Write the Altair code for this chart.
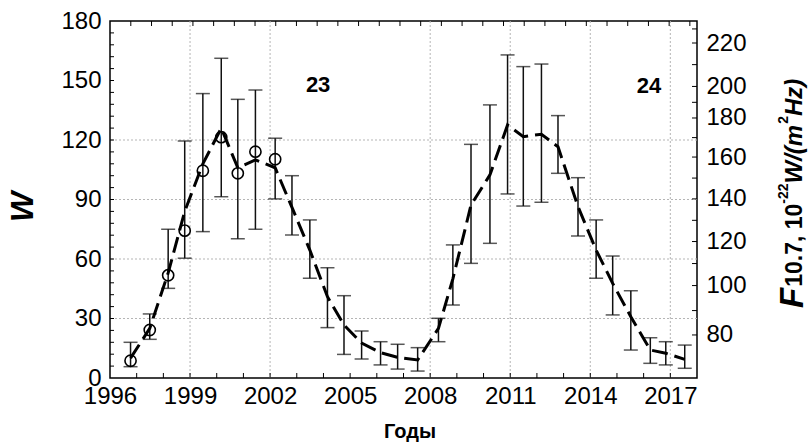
import altair as alt
import pandas as pd

# ---- series ---------------------------------------------------------------
# epochs of the averaged points (years)
years = [1996.77, 1997.49, 1998.18, 1998.80, 1999.48, 2000.17, 2000.79, 2001.45,
         2002.19, 2002.82, 2003.49, 2004.15, 2004.77, 2005.43, 2006.14, 2006.78,
         2007.53, 2008.31, 2008.85, 2009.53, 2010.24, 2010.90, 2011.49, 2012.17,
         2012.79, 2013.54, 2014.22, 2014.84, 2015.52, 2016.25, 2016.83, 2017.54]
# F10.7 expressed on the W scale, with its spread
f107_w = [10, 25, 53, 84, 108, 126, 106, 110, 106, 86, 64.5, 41, 26.7, 17.6, 12.8, 10.4,
          9.1, 25, 50, 87.2, 102.4, 127.6, 121.7, 122.9, 116.6, 86.4, 64.5, 47.7, 30.9,
          14.1, 12.5, 9.4]
f107_lo = [5.7, 19.5, 45.2, 60.4, 73.8, 91.4, 70.2, 75, 90.3, 72.1, 50.3, 25.4, 11.9, 9.6,
           6.6, 4.5, 3.5, 18.3, 36.8, 57.8, 67.9, 92.8, 86.7, 88.6, 103.2, 71.6, 50.3, 31.8,
           14.1, 7.4, 6.6, 4.9]
f107_hi = [18, 32.3, 75, 119.5, 143.4, 161.2, 140.5, 145.2, 120.9, 102, 79.7, 55.6, 41.5,
           23.7, 18.3, 17, 15.3, 30.1, 67.1, 117.8, 137.7, 162.9, 157, 158.3, 132.3, 101,
           79.7, 61.5, 44, 20.3, 18.3, 16.6]
# sunspot number W, cycle 23 rise
w_years = years[:9]
w_values = [8.7, 24.2, 51.8, 74.3, 104.5, 121.4, 103.2, 114.1, 110.3]

# cycle numbers
cycle_names = ["23", "24"]
cycle_x = [2003.8, 2016.2]
cycle_y = [147.5, 147.0]

# ---- axes -----------------------------------------------------------------
x_labels = [1996, 1999, 2002, 2005, 2008, 2011, 2014, 2017]
x_minor = list(range(1997, 2018))
top_minor = [round(1996.78 + 0.776 * i, 3) for i in range(28)]
w_ticks = [0, 30, 60, 90, 120, 150, 180]
w_minor = list(range(6, 180, 6))
f_labels = ["80", "100", "120", "140", "160", "180", "200", "220"]
f_positions = [21.7, 46.6, 68.8, 90.3, 111.4, 131.1, 147.0, 168.9]
f_minor = [34.0, 57.7, 79.5, 100.8, 121.2, 139.0, 158.0, 176.0]
grid_years = [1999, 2002, 2008, 2011, 2014, 2017]
grid_w = [30, 60, 90, 120]

W, H = 587, 357
FONT = "Liberation Sans"
xs = alt.Scale(domain=[1996, 2018], nice=False, zero=False)
ys = alt.Scale(domain=[0, 180], nice=False, zero=False)


def X(field, **kw):
    return alt.X(field, type="quantitative", scale=xs, title=None, **kw)


def Y(field, **kw):
    return alt.Y(field, type="quantitative", scale=ys, title=None, **kw)


series = pd.DataFrame({"year": years, "f": f107_w, "lo": f107_lo, "hi": f107_hi})
wdf = pd.DataFrame({"year": w_years, "w": w_values})
cyc = pd.DataFrame({"x": cycle_x, "y": cycle_y, "t": cycle_names})

grid_x = alt.Chart(pd.DataFrame({"gx": grid_years})).mark_rule(
    color="#b5b5b5", strokeDash=[2, 2], strokeWidth=1
).encode(x=X("gx", axis=None))
grid_y = alt.Chart(pd.DataFrame({"gy": grid_w})).mark_rule(
    color="#b5b5b5", strokeDash=[2, 2], strokeWidth=1
).encode(y=Y("gy", axis=None))

tick_style = dict(color="black", strokeWidth=1)
bottom_ticks = alt.Chart(pd.DataFrame({"t": x_minor})).mark_rule(**tick_style).encode(
    x=X("t", axis=None), y=alt.value(H), y2=alt.value(H - 5))
top_ticks = alt.Chart(pd.DataFrame({"t": top_minor})).mark_rule(**tick_style).encode(
    x=X("t", axis=None), y=alt.value(0), y2=alt.value(5))
left_ticks = alt.Chart(pd.DataFrame({"t": w_minor})).mark_rule(**tick_style).encode(
    y=Y("t", axis=None), x=alt.value(0), x2=alt.value(4))
right_ticks = alt.Chart(pd.DataFrame({"t": f_positions + f_minor})).mark_rule(**tick_style).encode(
    y=Y("t", axis=None), x=alt.value(W), x2=alt.value(W - 5))

err = alt.Chart(series).mark_rule(color="#111111", strokeWidth=1.5).encode(
    x=X("year", axis=None), y=Y("lo", axis=None), y2="hi")
cap_lo = alt.Chart(series).mark_tick(orient="horizontal", size=14, thickness=1.5, color="#111111").encode(
    x=X("year", axis=None), y=Y("lo", axis=None))
cap_hi = alt.Chart(series).mark_tick(orient="horizontal", size=14, thickness=1.5, color="#111111").encode(
    x=X("year", axis=None), y=Y("hi", axis=None))

label_expr = "[{}][indexof([{}], datum.value)]".format(
    ",".join("'%s'" % s for s in f_labels), ",".join(str(v) for v in f_positions))

axis_common = dict(grid=False, ticks=False, domain=False, labelFont=FONT, labelFontSize=24,
                   labelColor="black", labelFlush=False, title=None)

line = alt.Chart(series).mark_line(
    color="black", strokeWidth=3, strokeDash=[16, 7], interpolate="linear"
).encode(
    x=X("year", axis=alt.Axis(orient="bottom", values=x_labels, format="d", labelPadding=6,
                              **axis_common)),
    y=Y("f", axis=alt.Axis(orient="right", values=f_positions, labelExpr=label_expr,
                           labelPadding=9, **axis_common)),
)

circles = alt.Chart(wdf).mark_point(
    shape="circle", filled=False, size=125, strokeWidth=1.6, color="black", opacity=1
).encode(
    x=X("year", axis=None),
    y=Y("w", axis=alt.Axis(orient="left", values=w_ticks, labelPadding=9, **axis_common)),
)

cycles = alt.Chart(cyc).mark_text(
    font=FONT, fontSize=22, fontWeight="bold", color="black"
).encode(x=X("x", axis=None), y=Y("y", axis=None), text="t:N")

# ---- titles ---------------------------------------------------------------
ORIGIN_X, ORIGIN_Y = 110, 21


def txt(text, x, y, size, angle=0, italic=False, align="center", baseline="middle"):
    return alt.Chart(pd.DataFrame({"s": [text]})).mark_text(
        font=FONT, fontSize=size, fontWeight="bold",
        fontStyle="italic" if italic else "normal", angle=angle,
        align=align, baseline=baseline, color="black"
    ).encode(text="s:N", x=alt.value(x - ORIGIN_X), y=alt.value(y - ORIGIN_Y))


w_title = txt("W", 23, 207, 32, angle=270, italic=True)
x_title = txt("Годы", 410, 432, 20)

# right axis title: F_{10.7}, 10^{-22} W/(m^2 Hz), written upward piece by piece
EM = {"1": .556, "0": .556, ".": .278, "7": .556, ",": .278, " ": .278, "-": .333,
      "2": .556, "W": .944, "/": .278, "(": .333, "m": .889, "H": .722, "z": .5,
      ")": .333, "F": .611}
pieces = [("F", 33, 803, True), ("10.7, 10", 23, 802, False), ("-22", 14, 788, False),
          ("W/(m", 24, 802, True), ("2", 14, 788, False), ("Hz)", 24, 802, True)]
y_cursor = 308
right_title = []
for text, size, bx, ital in pieces:
    right_title.append(txt(text, bx, y_cursor, size, angle=270, italic=ital,
                           align="left", baseline="alphabetic"))
    y_cursor -= sum(EM[c] for c in text) * size + (1 if ital else 0)

chart = alt.layer(
    grid_x, grid_y, bottom_ticks, top_ticks, left_ticks, right_ticks,
    err, cap_lo, cap_hi, line, circles, cycles, w_title, x_title, *right_title
).resolve_axis(x="independent", y="independent").properties(
    width=W, height=H, autosize="none",
    padding={"left": ORIGIN_X, "top": ORIGIN_Y, "right": 810 - ORIGIN_X - W,
             "bottom": 445 - ORIGIN_Y - H},
    background="white",
).configure_view(stroke="black", strokeWidth=1.5)

chart.save("out.html", embed_options={"renderer": "svg", "actions": False})
